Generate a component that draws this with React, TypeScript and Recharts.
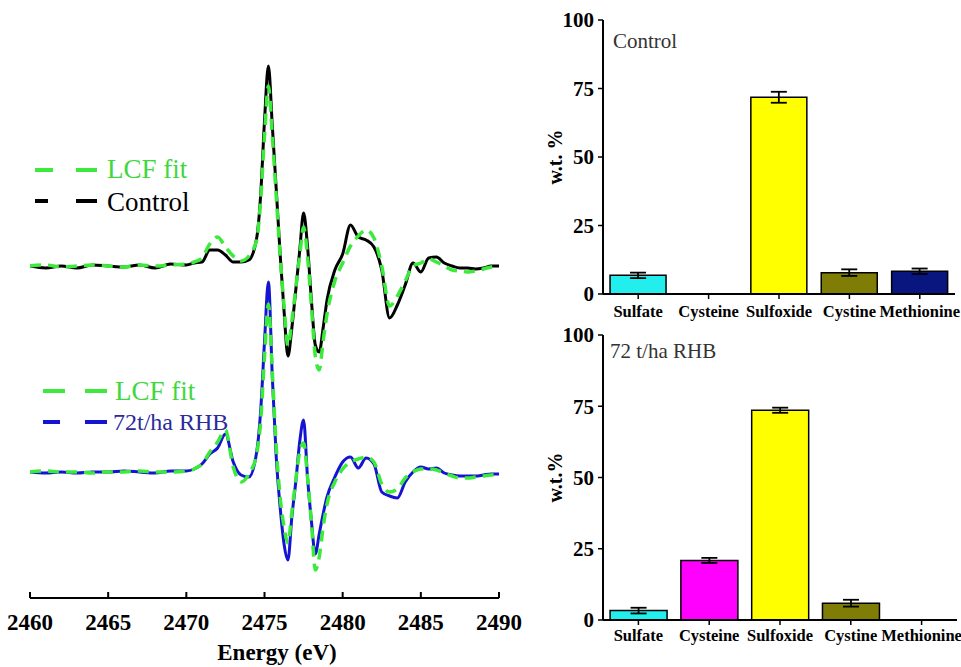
import { LineChart, Line, BarChart, Bar, Cell, ErrorBar, XAxis, YAxis } from 'recharts'

const SERIF = "'Liberation Serif', 'Times New Roman', Times, 'DejaVu Serif', serif"

// S K-edge derivative spectra, energy in eV
const energy = [
  2460, 2461, 2462, 2463, 2464, 2465, 2466, 2467, 2468, 2469, 2470,
  2470.5, 2471, 2471.5, 2472, 2472.5, 2473, 2473.5, 2474, 2474.5,
  2474.75, 2475, 2475.25, 2475.5, 2475.75, 2476, 2476.25, 2476.5, 2476.75,
  2477, 2477.25, 2477.5, 2477.75, 2478, 2478.25, 2478.5, 2478.75,
  2479, 2479.5, 2480, 2480.5, 2481, 2481.5, 2482, 2482.5, 2483, 2483.5,
  2484, 2484.5, 2485, 2485.5, 2486, 2486.5, 2487, 2487.5, 2488, 2488.5,
  2489, 2489.5, 2490,
]

const controlExp = [
  0, -0.02, 0, -0.02, 0.01, 0, -0.01, 0.01, -0.02, 0.02, 0.01,
  0.03, 0.04, 0.16, 0.16, 0.11, 0.04, 0.04, 0.06, 0.28,
  0.7, 1.45, 2.0, 1.4, 0.77, 0.12, -0.45, -0.9, -0.62,
  -0.24, 0.15, 0.53, 0.2, -0.34, -0.79, -0.86, -0.62,
  -0.34, -0.04, 0.12, 0.41, 0.29, 0.26, 0.19, -0.04, -0.52, -0.39,
  -0.19, 0.03, -0.06, 0.08, 0.09, 0.03, 0, -0.02, -0.02, -0.03,
  -0.02, 0, 0,
]

const controlFit = [
  0, 0.01, -0.01, 0, 0.01, 0, -0.01, 0.01, 0, 0.01, 0.02,
  0.04, 0.08, 0.22, 0.29, 0.19, 0.1, 0.05, 0.1, 0.26,
  0.65, 1.3, 1.8, 1.3, 0.7, 0.1, -0.4, -0.8, -0.55,
  -0.22, 0.1, 0.39, 0.1, -0.4, -0.9, -1.04, -0.75,
  -0.48, -0.15, 0.03, 0.2, 0.3, 0.36, 0.28, 0.0, -0.4, -0.3,
  -0.15, 0.0, 0.03, 0.07, 0.04, 0.0, -0.04, -0.05, -0.06, -0.05,
  -0.03, -0.01, 0,
]

const rhbExp = [
  0, -0.01, 0, -0.01, 0, 0, 0.01, 0, -0.01, 0.01, 0.01,
  0.03, 0.08, 0.18, 0.24, 0.38, 0.1, -0.03, -0.05, 0.2,
  0.6, 1.3, 1.9, 0.95, 0.15, -0.35, -0.72, -0.88, -0.45,
  -0.1, 0.3, 0.52, -0.05, -0.49, -0.82, -0.62, -0.42,
  -0.25, -0.05, 0.1, 0.15, 0.04, 0.14, 0.08, -0.2, -0.24, -0.26,
  -0.1, 0.0, 0.05, 0.03, 0.04, -0.01, -0.03, -0.04, -0.04, -0.04,
  -0.03, -0.02, -0.02,
]

const rhbFit = [
  0, 0.01, 0, 0, -0.01, 0, 0, 0.01, 0, 0, 0.01,
  0.03, 0.08, 0.2, 0.3, 0.42, 0.05, -0.1, -0.02, 0.18,
  0.5, 1.15, 1.68, 1.0, 0.25, -0.25, -0.55, -0.71, -0.4,
  -0.08, 0.2, 0.29, -0.05, -0.5, -0.98, -0.85, -0.55,
  -0.32, -0.1, 0.03, 0.1, 0.13, 0.15, 0.1, -0.12, -0.2, -0.17,
  -0.06, 0.0, 0.03, 0.03, 0.02, -0.01, -0.04, -0.06, -0.06, -0.05,
  -0.04, -0.03, -0.02,
]

// vertical shift of the control pair above the RHB pair
const CONTROL_OFFSET = 2.06
const energyTicks = [2460, 2465, 2470, 2475, 2480, 2485, 2490]

// LCF results, wt %
const species = ['Sulfate', 'Cysteine', 'Sulfoxide', 'Cystine', 'Methionine']
const speciesColors = ['#22eeee', '#ff00ff', '#ffff00', '#7f7d06', '#0a1680']
const controlWt = [6.8, 0, 71.8, 7.8, 8.3]
const controlErr = [1.0, 0, 2.0, 1.2, 1.0]
const rhbWt = [3.3, 20.9, 73.6, 5.9, 0]
const rhbErr = [1.0, 0.9, 0.9, 1.2, 0]
const wtTicks = [0, 25, 50, 75, 100]

const spectra = energy.map((e, i) => ({
  e,
  ctl: controlExp[i] + CONTROL_OFFSET,
  ctlFit: controlFit[i] + CONTROL_OFFSET,
  rhb: rhbExp[i],
  rhbFit: rhbFit[i],
}))

const GREEN = '#3bea3b'

function WtChart({ values, errors, yLabel, height, marginTop, marginBottom, marginRight, tickMargin }: {
  values: number[]
  errors: number[]
  yLabel: string
  height: number
  marginTop: number
  marginBottom: number
  marginRight: number
  tickMargin: number
}) {
  const data = species.map((name, i) => ({ name, value: values[i], err: errors[i] }))
  return (
    <BarChart
      width={431}
      height={height}
      data={data}
      margin={{ top: marginTop, right: marginRight, bottom: marginBottom, left: 0 }}
      barCategoryGap="10%"
      style={{ fontFamily: SERIF }}
    >
      <XAxis
        xAxisId="b"
        dataKey="name"
        interval={0}
        height={30}
        tickSize={5}
        tickMargin={tickMargin}
        axisLine={{ stroke: '#000', strokeWidth: 2 }}
        tickLine={{ stroke: '#000', strokeWidth: 1.5 }}
        tick={{ fontFamily: SERIF, fontSize: 16.5, fontWeight: 'bold', fill: '#000' }}
      />
      <XAxis xAxisId="t" dataKey="name" orientation="top" height={0} tick={false} tickLine={false}
        axisLine={{ stroke: '#222', strokeWidth: 1.5 }} />
      <YAxis
        yAxisId="l"
        width={73}
        domain={[0, 100]}
        ticks={wtTicks}
        interval={0}
        tickSize={5}
        tickMargin={4}
        axisLine={{ stroke: '#000', strokeWidth: 2 }}
        tickLine={{ stroke: '#000', strokeWidth: 1.5 }}
        tick={{ fontFamily: SERIF, fontSize: 21, fontWeight: 'bold', fill: '#000' }}
        label={{
          value: yLabel,
          angle: -90,
          position: 'insideLeft',
          offset: 25,
          style: { textAnchor: 'middle', fontFamily: SERIF, fontSize: 20, fontWeight: 'bold', fill: '#000' },
        }}
      />
      <YAxis yAxisId="r" orientation="right" width={0} domain={[0, 100]} tick={false} tickLine={false}
        axisLine={{ stroke: '#222', strokeWidth: 1.5 }} />
      <Bar xAxisId="b" yAxisId="l" dataKey="value" stroke="#000" strokeWidth={1.5} isAnimationActive={false}>
        {data.map((d, i) => (
          <Cell key={d.name} fill={speciesColors[i]} />
        ))}
        <ErrorBar dataKey="err" width={8} stroke="#000" strokeWidth={1.8} direction="y" />
      </Bar>
    </BarChart>
  )
}

export default function App() {
  return (
    <div style={{ position: 'absolute', left: 0, top: 0, width: 961, height: 667, background: '#fff', fontFamily: SERIF }}>
      {/* spectra panel */}
      <div style={{ position: 'absolute', left: 0, top: 0 }}>
        <LineChart width={530} height={667} data={spectra} margin={{ top: 27, right: 31, bottom: 9, left: 30 }}
          style={{ fontFamily: SERIF }}>
          <XAxis
            xAxisId="b"
            dataKey="e"
            type="number"
            domain={[2460, 2490]}
            ticks={energyTicks}
            interval={0}
            allowDataOverflow
            height={60}
            tickSize={-6}
            tickMargin={22}
            axisLine={{ stroke: '#000', strokeWidth: 2 }}
            tickLine={{ stroke: '#000', strokeWidth: 2 }}
            tick={{ fontFamily: SERIF, fontSize: 23, fontWeight: 'bold', fill: '#000' }}
          />
          <XAxis xAxisId="t" dataKey="e" type="number" orientation="top" domain={[2460, 2490]}
            height={0} tick={false} tickLine={false} axisLine={{ stroke: '#222', strokeWidth: 1.5 }} />
          <YAxis yAxisId="l" domain={[-1.26, 4.45]} width={0} tick={false} tickLine={false}
            axisLine={{ stroke: '#222', strokeWidth: 1.5 }} />
          <YAxis yAxisId="r" orientation="right" domain={[-1.26, 4.45]} width={0} tick={false} tickLine={false}
            axisLine={{ stroke: '#222', strokeWidth: 1.5 }} />
          <Line xAxisId="b" yAxisId="l" type="monotone" dataKey="ctl" stroke="#000" strokeWidth={3}
            dot={false} isAnimationActive={false} />
          <Line xAxisId="b" yAxisId="l" type="monotone" dataKey="ctlFit" stroke={GREEN} strokeWidth={3.5}
            strokeDasharray="11 7" dot={false} isAnimationActive={false} />
          <Line xAxisId="b" yAxisId="l" type="monotone" dataKey="rhb" stroke="#1414d2" strokeWidth={3}
            dot={false} isAnimationActive={false} />
          <Line xAxisId="b" yAxisId="l" type="monotone" dataKey="rhbFit" stroke={GREEN} strokeWidth={3.5}
            strokeDasharray="11 7" dot={false} isAnimationActive={false} />
        </LineChart>
      </div>

      {/* composition panels */}
      <div style={{ position: 'absolute', left: 530, top: 0 }}>
        <WtChart values={controlWt} errors={controlErr} yLabel="w.t. %" height={330}
          marginTop={20} marginBottom={6} marginRight={6} tickMargin={6} />
      </div>
      <div style={{ position: 'absolute', left: 530, top: 315 }}>
        <WtChart values={rhbWt} errors={rhbErr} yLabel="w.t.%" height={352}
          marginTop={20} marginBottom={17} marginRight={4} tickMargin={4} />
      </div>

      {/* legends, panel titles, axis title */}
      <svg width={961} height={667} style={{ position: 'absolute', left: 0, top: 0, pointerEvents: 'none' }}>
        <g strokeWidth={4}>
          <line x1={35} y1={170} x2={53} y2={170} stroke={GREEN} />
          <line x1={76} y1={170} x2={97} y2={170} stroke={GREEN} />
          <line x1={35} y1={201} x2={48} y2={201} stroke="#000" />
          <line x1={76} y1={201} x2={97} y2={201} stroke="#000" />
          <line x1={43} y1={391} x2={65} y2={391} stroke={GREEN} />
          <line x1={85} y1={391} x2={107} y2={391} stroke={GREEN} />
          <line x1={43} y1={422} x2={60} y2={422} stroke="#1414d2" />
          <line x1={85} y1={422} x2={107} y2={422} stroke="#1414d2" />
        </g>
        <g style={{ fontFamily: SERIF }}>
          <text x={107} y={178} fontSize={27} fill="#3ed83e">LCF fit</text>
          <text x={107} y={211} fontSize={27} fill="#000">Control</text>
          <text x={115} y={400} fontSize={27} fill="#3ed83e">LCF fit</text>
          <text x={113} y={430} fontSize={24} fill="#2b2b9a">72t/ha RHB</text>
          <text x={277} y={660} fontSize={23} fontWeight="bold" textAnchor="middle" fill="#000">Energy (eV)</text>
          <text x={613} y={48} fontSize={21} fill="#333">Control</text>
          <text x={610} y={358} fontSize={21} fill="#333">72 t/ha RHB</text>
        </g>
      </svg>
    </div>
  )
}
